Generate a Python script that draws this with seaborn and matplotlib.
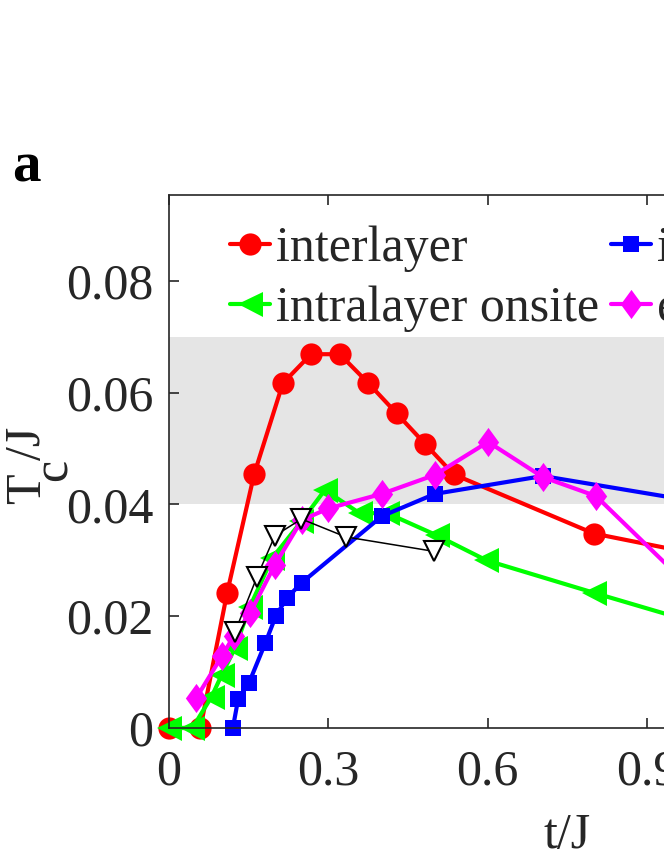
import numpy as np
import pandas as pd
import matplotlib
matplotlib.use("Agg")
import matplotlib.pyplot as plt
import seaborn as sns

# values (t/J, Tc/J)
inter_t = [0.0, 0.06, 0.11, 0.161, 0.215, 0.268, 0.322, 0.376, 0.429, 0.482, 0.536, 0.80, 1.0]
inter_tc = [0.0, 0.0, 0.0241, 0.0454, 0.0617, 0.0669, 0.0669, 0.0617, 0.0563, 0.0509, 0.0454, 0.0348, 0.031]

nn_t = [0.121, 0.131, 0.151, 0.182, 0.2016, 0.222, 0.2505, 0.401, 0.501, 0.704, 1.0]
nn_tc = [0.0, 0.0052, 0.008, 0.0152, 0.020, 0.0232, 0.026, 0.0379, 0.0419, 0.0451, 0.0404]

onsite_t = [0.0, 0.045, 0.081, 0.10, 0.125, 0.153, 0.195, 0.25, 0.294, 0.36, 0.41, 0.504, 0.598, 0.80, 1.0]
onsite_tc = [0.0, 0.0, 0.0056, 0.0095, 0.0143, 0.0217, 0.0304, 0.037, 0.0426, 0.0384, 0.0385, 0.0345, 0.030, 0.0242, 0.0186]

ext_t = [0.0517, 0.10, 0.123, 0.153, 0.20, 0.2505, 0.3006, 0.401, 0.501, 0.601, 0.704, 0.804, 1.0]
ext_tc = [0.0053, 0.0128, 0.0165, 0.0205, 0.0292, 0.0372, 0.0393, 0.0419, 0.0453, 0.0512, 0.0449, 0.0415, 0.0234]

ref_t = [1 / 8, 1 / 6, 1 / 5, 1 / 4, 1 / 3, 1 / 2]
ref_tc = [0.0172, 0.0271, 0.0344, 0.0374, 0.0342, 0.0316]

band = (0.04, 0.07)
xticks = [0, 0.3, 0.6, 0.9, 1.2, 1.5]
yticks = [0, 0.02, 0.04, 0.06, 0.08]
ytick_labels = ["0", "0.02", "0.04", "0.06", "0.08"]
xtick_labels = ["0", "0.3", "0.6", "0.9", "1.2", "1.5"]

sns.set_theme(style="ticks")
plt.rcParams["font.family"] = ["Liberation Serif", "DejaVu Serif"]

ink = "#262626"
fs = 36

fig = plt.figure(figsize=(6.64, 8.6), dpi=100)
# the axes runs past the right edge, like the cropped original
ax = fig.add_axes([0.2538, 0.1535, 1.2012, 0.6198])

ax.axhspan(band[0], band[1], color="#e5e5e5", lw=0, zorder=0)

diamond = [(0, 1), (0.73, 0), (0, -1), (-0.73, 0), (0, 1)]

series = [
    ("interlayer", inter_t, inter_tc, "#ff0000", "o", 16),
    ("intralayer onsite", onsite_t, onsite_tc, "#00ff00", "<", 18),
    ("intralayer NN", nn_t, nn_tc, "#0000ff", "s", 12),
    ("extended s", ext_t, ext_tc, "#ff00ff", diamond, 21),
]

for name, t, tc, col, mk, ms in series:
    df = pd.DataFrame({"t": t, "tc": tc})
    sns.lineplot(data=df, x="t", y="tc", ax=ax, color=col, marker=mk,
                 markersize=ms, markeredgecolor=col, markeredgewidth=0,
                 linewidth=3, estimator=None, sort=False, label=name,
                 clip_on=False)

df_ref = pd.DataFrame({"t": ref_t, "tc": ref_tc})
sns.lineplot(data=df_ref, x="t", y="tc", ax=ax, color="black", marker="v",
             markersize=14, markerfacecolor="white", markeredgecolor="black",
             markeredgewidth=1.5, linewidth=1.1, estimator=None, sort=False,
             legend=False)

ax.set_xlim(0, 1.5)
ax.set_ylim(0, 0.0954)
ax.set_xticks(xticks)
ax.set_xticklabels(xtick_labels)
ax.set_yticks(yticks)
ax.set_yticklabels(ytick_labels)
ax.tick_params(direction="in", length=7, width=1.2, colors=ink, labelsize=fs,
               pad=11, top=True, right=True)
ax.tick_params(axis="x", pad=15)
for sp in ax.spines.values():
    sp.set_color(ink)
    sp.set_linewidth(1.2)

ax.set_xlabel("t/J", fontsize=fs, color=ink, va="baseline")
ax.xaxis.set_label_coords(0.5, -(848 - 728) / 533)
ax.set_ylabel("")

# y label drawn MATLAB style: T, a full size subscript c, then /J
lab_kw = dict(rotation=90, rotation_mode="anchor", ha="left", va="baseline",
              fontsize=fs, color=ink)
fig.text(40 / 664, 1 - 504 / 860, "T", **lab_kw)
fig.text(67 / 664, 1 - 481 / 860, "c", **lab_kw)
fig.text(40 / 664, 1 - 460 / 860, "/J", **lab_kw)

handles, labels = ax.get_legend_handles_labels()
ax.legend(handles, labels, ncol=2, loc="upper left", frameon=False,
          bbox_to_anchor=(230 / 664, 1 - 226 / 860), bbox_transform=fig.transFigure,
          borderaxespad=0, borderpad=0, fontsize=fs, handlelength=0.8,
          handletextpad=0.12, columnspacing=0.23, labelspacing=0.26)

fig.text(12 / 664, 1 - 182 / 860, "a", fontsize=41, fontweight="bold",
         va="baseline", ha="left", color="black")

fig.savefig("out.png", dpi=100)
